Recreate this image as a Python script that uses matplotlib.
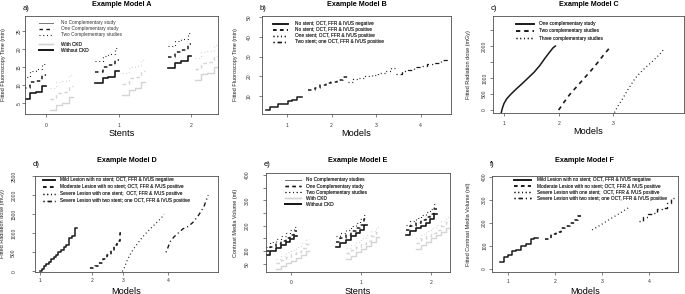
import matplotlib
matplotlib.use('Agg')
import matplotlib.pyplot as plt
from matplotlib.lines import Line2D
from matplotlib.transforms import Affine2D

plt.rcParams['font.family'] = ['Liberation Sans', 'DejaVu Sans']
plt.rcParams['lines.scale_dashes'] = False

# ---------------- data ----------------
# panel A: fluoroscopy time, step levels for each stent group (0, 1, 2)
a_stents = [0, 1, 2]
a_steps_nockd = [-0.32, -0.22, -0.14, -0.05, 0.00]
a_steps_ckd = [0.05, 0.14, 0.22, 0.31, 0.37]
a_nockd_none = [[6.1, 7.7, 8.1, 9.7], [10.5, 12.0, 12.4, 14.0], [14.7, 16.2, 16.6, 18.2]]
a_nockd_one = [[9.3, 10.8, 11.2, 12.8], [13.6, 15.1, 15.5, 17.1], [17.8, 19.3, 19.7, 21.3]]
a_nockd_two = [[12.4, 14.0, 14.4, 16.0], [16.6, 18.2, 18.6, 20.2], [20.8, 22.4, 22.8, 24.4]]
a_ckd_none = [[3.0, 4.6, 5.0, 6.6], [7.2, 8.8, 9.2, 10.8], [11.4, 13.0, 13.4, 15.0]]
a_ckd_one = [[6.1, 7.7, 8.1, 9.7], [10.3, 11.9, 12.3, 13.9], [14.5, 16.1, 16.5, 18.1]]
a_ckd_two = [[9.2, 10.8, 11.2, 12.8], [13.4, 15.0, 15.4, 17.0], [17.6, 19.2, 19.6, 21.2]]

# panel B: fluoroscopy time by model
b_neg_x = [0.53, 0.62, 0.70, 0.80, 0.90, 1.02, 1.12, 1.22, 1.33]
b_neg_y = [2.9, 4.2, 4.6, 5.8, 6.2, 7.5, 8.0, 9.6]
b_pos_x = [1.48, 1.62, 1.75, 1.87, 1.98, 2.12, 2.26, 2.36]
b_pos_y = [13.0, 14.3, 15.8, 16.4, 17.3, 18.2, 19.8]
b_one_x = [2.36, 2.48, 2.62, 2.76, 2.90, 3.05, 3.20, 3.33, 3.45]
b_one_y = [17.0, 18.5, 19.0, 20.2, 20.8, 21.8, 22.5, 24.0]
b_two_x = [3.45, 3.58, 3.72, 3.86, 4.00, 4.15, 4.30, 4.45, 4.65]
b_two_y = [21.3, 22.8, 23.2, 24.5, 25.0, 26.0, 26.5, 28.2]

# panel C: radiation dose by number of complementary studies
c_one_x = [0.95, 0.97, 1.00, 1.05, 1.13, 1.22, 1.33, 1.44, 1.55, 1.65, 1.75, 1.83, 1.90, 1.94]
c_one_y = [-90, 50, 200, 350, 500, 650, 820, 1000, 1180, 1380, 1620, 1800, 1950, 2000]
c_two_x = [2.00, 2.10, 2.20, 2.34, 2.47, 2.60, 2.72, 2.82, 2.90, 2.95]
c_two_y = [0, 250, 480, 750, 1000, 1250, 1500, 1720, 1880, 2000]
c_three_x = [3.02, 3.08, 3.15, 3.27, 3.40, 3.55, 3.70, 3.85, 3.94]
c_three_y = [-80, 120, 300, 650, 1000, 1270, 1500, 1750, 1940]

# panel D: radiation dose by lesion model
d_tick_pos = [1.0, 2.0, 2.6, 3.46]
d_tick_lab = ['1', '2', '3', '4']
d_mild_x = [1.0, 1.04, 1.08, 1.12, 1.17, 1.21, 1.26, 1.30, 1.35, 1.40, 1.45, 1.50, 1.56, 1.61, 1.66, 1.70]
d_mild_y = [0, 70, 130, 200, 260, 320, 380, 440, 500, 560, 640, 700, 870, 920, 1140]
d_mod_x = [1.96, 2.05, 2.12, 2.20, 2.28, 2.36, 2.42, 2.48, 2.53, 2.56]
d_mod_y = [80, 130, 230, 320, 420, 560, 700, 800, 1000]
d_one_x = [2.58, 2.62, 2.66, 2.72, 2.80, 2.90, 3.00, 3.12, 3.24, 3.33, 3.38]
d_one_y = [0, 100, 250, 420, 600, 780, 950, 1120, 1280, 1400, 1500]
d_two_x = [3.42, 3.45, 3.50, 3.57, 3.65, 3.75, 3.85, 3.95, 4.05, 4.15, 4.23]
d_two_y = [500, 600, 780, 900, 1000, 1120, 1180, 1300, 1480, 1700, 2000]

# panel E: contrast media volume, step levels for each stent group
e_stents = [0, 1, 2]
e_steps_nockd = [-0.36, -0.30, -0.22, -0.15, -0.08, -0.02, 0.04, 0.08]
e_steps_ckd = [-0.22, -0.15, -0.08, 0.00, 0.07, 0.14, 0.21, 0.26]
e_nockd_none = [[85, 100, 112, 125, 135, 148, 160], [118, 132, 145, 158, 170, 185, 205],
                [162, 178, 190, 200, 212, 225, 245]]
e_nockd_one = [[100, 118, 130, 142, 152, 165, 180], [138, 152, 165, 178, 190, 205, 225],
               [182, 198, 210, 222, 235, 248, 265]]
e_nockd_two = [[118, 135, 148, 160, 170, 182, 197], [160, 172, 185, 198, 212, 225, 242],
               [205, 218, 230, 242, 255, 268, 285]]
e_ckd_none = [[28, 40, 52, 62, 72, 85, 100], [70, 82, 95, 108, 120, 135, 155],
              [110, 125, 138, 150, 162, 175, 192]]
e_ckd_one = [[55, 65, 78, 88, 98, 112, 128], [92, 105, 118, 130, 142, 158, 175],
             [132, 148, 160, 172, 185, 198, 215]]
e_ckd_two = [[68, 82, 95, 105, 117, 132, 148], [112, 125, 138, 150, 163, 178, 195],
             [152, 168, 180, 192, 205, 218, 235]]

# panel F: contrast media volume by lesion model
f_mild_x = [0.83, 0.92, 1.00, 1.08, 1.17, 1.28, 1.38, 1.48, 1.56, 1.64]
f_mild_y = [30, 50, 60, 80, 82, 100, 110, 130, 135]
f_mod_x = [1.79, 1.92, 2.02, 2.12, 2.22, 2.32, 2.42, 2.50, 2.57]
f_mod_y = [130, 150, 160, 180, 185, 200, 212, 230]
f_one_x = [2.79, 2.88, 2.98, 3.08, 3.18, 3.28, 3.38, 3.48, 3.60]
f_one_y = [170, 180, 192, 205, 218, 230, 242, 255, 270]
f_two_x = [3.79, 3.88, 3.98, 4.08, 4.18, 4.28, 4.38, 4.48, 4.55]
f_two_y = [210, 225, 240, 245, 260, 265, 285, 310]

lesion_labels = ['Mild Lesion with no stent; OCT, FFR & IVUS negative',
                 'Moderate Lesion with no stent; OCT, FFR & IVUS positive',
                 'Severe Lesion with one stent;  OCT, FFR & IVUS positive',
                 'Severe Lesion with two stent; one OCT, FFR & IVUS positive']

# ---------------- styles ----------------
DARK = '#1a1a1a'
LIGHT = '#d4d4d4'
SOLID = '-'
DASHED = (0, (2.5, 2.5))
DOTTED = (0, (0.7, 2.0))
DOTDASH = (0, (0.8, 2.2, 3.0, 2.2))
TICK_FS = 3.6
LEG_FS = 3.4

W, H = 685, 294
fig = plt.figure(figsize=(W / 100, H / 100), dpi=100)
PX = Affine2D().scale(1 / W, -1 / H).translate(0, 1) + fig.transFigure


def px_axes(x0, y0, x1, y1):
    return fig.add_axes([x0 / W, 1 - y1 / H, (x1 - x0) / W, (y1 - y0) / H])


def steps(ax, xs, levels, **kw):
    ax.step(xs, list(levels) + [levels[-1]], where='post', **kw)


def style(ax, box, letter, title, title_y, xlabel, ylabel, ylab_x, xpad, ypad):
    x0, y0, x1, y1 = box
    for sp in ax.spines.values():
        sp.set_color('#4d4d4d')
        sp.set_linewidth(0.6)
    ax.tick_params(length=2, width=0.5, colors='#4d4d4d', labelcolor='#333333', labelsize=TICK_FS)
    ax.tick_params(axis='x', pad=xpad)
    ax.tick_params(axis='y', pad=ypad, labelrotation=90)
    for t in ax.get_yticklabels():
        t.set_va('center')
    fig.text((x0 + x1) / 2, title_y, title, transform=PX, ha='center', va='center',
             fontsize=5.2, fontweight='bold')
    fig.text(x0 - 2, title_y + 4, letter, transform=PX, ha='left', va='center', fontsize=5.5)
    ax.set_xlabel(xlabel, fontsize=6.6, va='center')
    ax.xaxis.set_label_coords((x0 + x1) / 2, y1 + 19, transform=PX)
    ax.set_ylabel(ylabel, fontsize=4, va='center', color='#222222')
    ax.yaxis.set_label_coords(ylab_x, (y0 + y1) / 2, transform=PX)


def legend(ax, handles, labels, x, y, hlen, hpad, spacing=0.22):
    lg = ax.legend(handles, labels, loc='upper left', bbox_to_anchor=(x, y),
                   bbox_transform=PX, frameon=False, borderaxespad=0, borderpad=0,
                   fontsize=LEG_FS, handlelength=hlen, handletextpad=hpad, labelspacing=spacing,
                   labelcolor='#333333')
    ax.add_artist(lg)


def h(color, ls, lw):
    return Line2D([], [], color=color, linestyle=ls, lw=lw)


# ---------------- panel A ----------------
box = (25, 16, 218, 114)
ax = px_axes(*box)
for g, s in enumerate(a_stents):
    xd = [s + o for o in a_steps_nockd]
    xc = [s + o for o in a_steps_ckd]
    steps(ax, xc, a_ckd_none[g], color=LIGHT, lw=1.0, ls=SOLID)
    steps(ax, xc, a_ckd_one[g], color=LIGHT, lw=1.0, ls=DASHED)
    steps(ax, xc, a_ckd_two[g], color=LIGHT, lw=0.8, ls=DOTTED)
    steps(ax, xd, a_nockd_none[g], color=DARK, lw=1.2, ls=SOLID)
    steps(ax, xd, a_nockd_one[g], color=DARK, lw=1.1, ls=DASHED)
    steps(ax, xd, a_nockd_two[g], color=DARK, lw=0.8, ls=DOTTED)
ax.set_xlim(-0.29, 2.37)
ax.set_ylim(2, 29.2)
ax.set_xticks(a_stents)
ax.set_yticks([5, 10, 15, 20, 25])
style(ax, box, 'a)', 'Example Model A', 4, 'Stents', 'Fitted Fluoroscopy Time (min)', 4, 4.2, 0.2)
legend(ax, [h('#777777', SOLID, 0.7), h(DARK, DASHED, 1.0), h(DARK, DOTTED, 0.8)],
       ['No Complementary study', 'One Complementary study', 'Two Complementary studies'],
       39, 20.3, 3.0, 1.7)
legend(ax, [h(LIGHT, SOLID, 1.0), h(DARK, SOLID, 1.4)], ['With CKD', 'Without CKD'],
       39, 41.5, 3.0, 1.7)

# ---------------- panel B ----------------
box = (262, 16, 451, 114)
ax = px_axes(*box)
steps(ax, b_neg_x, b_neg_y, color=DARK, lw=1.1, ls=SOLID)
steps(ax, b_pos_x, b_pos_y, color=DARK, lw=1.1, ls=DASHED)
steps(ax, b_one_x, b_one_y, color=DARK, lw=0.9, ls=DOTTED)
steps(ax, b_two_x, b_two_y, color=DARK, lw=0.9, ls=DOTDASH)
ax.set_xlim(0.44, 4.68)
ax.set_ylim(0.9, 50.5)
ax.set_xticks([1, 2, 3, 4])
ax.set_yticks([10, 20, 30, 40, 50])
style(ax, box, 'b)', 'Example Model B', 4, 'Models', 'Fitted Fluoroscopy Time (min)', 236, 4.2, 5.5)
legend(ax, [h(DARK, SOLID, 1.2), h(DARK, DASHED, 1.2), h(DARK, DOTTED, 1.0), h(DARK, DOTDASH, 1.0)],
       ['No stent; OCT, FFR & IVUS negative', 'No stent; OCT, FFR & IVUS positive',
        'One stent; OCT, FFR & IVUS positive', 'Two stent; one OCT, FFR & IVUS positive'],
       273, 21.3, 3.2, 1.5)

# ---------------- panel C ----------------
box = (493, 16, 684, 113)
ax = px_axes(*box)
ax.plot(c_one_x, c_one_y, color=DARK, lw=1.1, ls=SOLID)
ax.plot(c_two_x, c_two_y, color=DARK, lw=1.2, ls=(0, (3.0, 3.0)))
ax.plot(c_three_x, c_three_y, color=DARK, lw=0.9, ls=DOTTED)
ax.set_xlim(0.8, 4.29)
ax.set_ylim(-94, 2940)
ax.set_xticks([1, 2, 3])
ax.set_yticks([0, 500, 1000, 1500, 2000, 2500])
ax.set_yticklabels(['0', '500', '1000', '', '2000', ''])
style(ax, box, 'c)', 'Example Model C', 4.5, 'Models', 'Fitted Radiation dose (mGy)', 469, 3.8, 2.2)
legend(ax, [h(DARK, SOLID, 1.2), h(DARK, (0, (3.0, 3.0)), 1.2), h(DARK, DOTTED, 1.0)],
       ['One complementary study', 'Two complementary studies', 'Three complementary studies'],
       516, 21.3, 3.8, 1.0, 0.45)

# ---------------- panel D ----------------
box = (35, 176, 218, 272)
ax = px_axes(*box)
steps(ax, d_mild_x, d_mild_y, color=DARK, lw=1.1, ls=SOLID)
steps(ax, d_mod_x, d_mod_y, color=DARK, lw=1.2, ls=DASHED)
ax.plot(d_one_x, d_one_y, color=DARK, lw=0.9, ls=DOTTED)
ax.plot(d_two_x, d_two_y, color=DARK, lw=1.0, ls=DOTDASH)
ax.set_xlim(0.9, 4.42)
ax.set_ylim(-15, 2480)
ax.set_xticks(d_tick_pos)
ax.set_xticklabels(d_tick_lab)
ax.set_yticks([0, 500, 1000, 1500, 2000, 2500])
style(ax, box, 'd)', 'Example Model D', 160, 'Models', 'Fitted Radiation dose (mGy)', 3, 2.4, 11.5)
legend(ax, [h(DARK, SOLID, 1.2), h(DARK, DASHED, 1.2), h(DARK, DOTTED, 1.0), h(DARK, DOTDASH, 1.0)],
       lesion_labels, 43, 177.5, 2.6, 1.0, 0.4)

# ---------------- panel E ----------------
box = (266, 173, 450, 272)
ax = px_axes(*box)
for g, s in enumerate(e_stents):
    xd = [s + o for o in e_steps_nockd]
    xc = [s + o for o in e_steps_ckd]
    steps(ax, xc, e_ckd_none[g], color=LIGHT, lw=1.0, ls=SOLID)
    steps(ax, xc, e_ckd_one[g], color=LIGHT, lw=1.0, ls=DASHED)
    steps(ax, xc, e_ckd_two[g], color=LIGHT, lw=0.8, ls=DOTTED)
    steps(ax, xd, e_nockd_none[g], color=DARK, lw=1.2, ls=SOLID)
    steps(ax, xd, e_nockd_one[g], color=DARK, lw=1.1, ls=DASHED)
    steps(ax, xd, e_nockd_two[g], color=DARK, lw=0.8, ls=DOTTED)
ax.set_xlim(-0.36, 2.27)
ax.set_ylim(18, 408)
ax.set_xticks(e_stents)
ax.set_yticks([50, 100, 150, 200, 250, 300, 350, 400])
ax.set_yticklabels(['50', '100', '', '200', '', '300', '', '400'])
style(ax, box, 'e)', 'Example Model E', 160, 'Stents', 'Contrast Media Volume (ml)', 236, 3.8, 9.5)
legend(ax, [h('#777777', SOLID, 0.7), h(DARK, DASHED, 1.0), h(DARK, DOTTED, 0.8),
            h(LIGHT, SOLID, 1.0), h(DARK, SOLID, 1.4)],
       ['No Complementary studies', 'One Complementary study', 'Two Complementary studies',
        'With CKD', 'Without CKD'],
       285, 177.5, 3.4, 1.0)

# ---------------- panel F ----------------
box = (492, 176, 678, 272)
ax = px_axes(*box)
steps(ax, f_mild_x, f_mild_y, color=DARK, lw=1.1, ls=SOLID)
steps(ax, f_mod_x, f_mod_y, color=DARK, lw=1.2, ls=DASHED)
ax.plot(f_one_x, f_one_y, color=DARK, lw=0.9, ls=DOTTED)
steps(ax, f_two_x, f_two_y, color=DARK, lw=1.0, ls=DOTDASH)
ax.set_xlim(0.66, 4.62)
ax.set_ylim(-13, 404)
ax.set_xticks([1, 2, 3, 4])
ax.set_yticks([0, 100, 200, 300, 400])
style(ax, box, 'f)', 'Example Model F', 160, 'Models', 'Fitted Contrast Media Volume (ml)', 469, 3.0, 1.5)
legend(ax, [h(DARK, SOLID, 1.2), h(DARK, DASHED, 1.2), h(DARK, DOTTED, 1.0), h(DARK, DOTDASH, 1.0)],
       lesion_labels, 514, 177.5, 3.6, 1.2, 0.22)

fig.savefig('out.png', dpi=100)
